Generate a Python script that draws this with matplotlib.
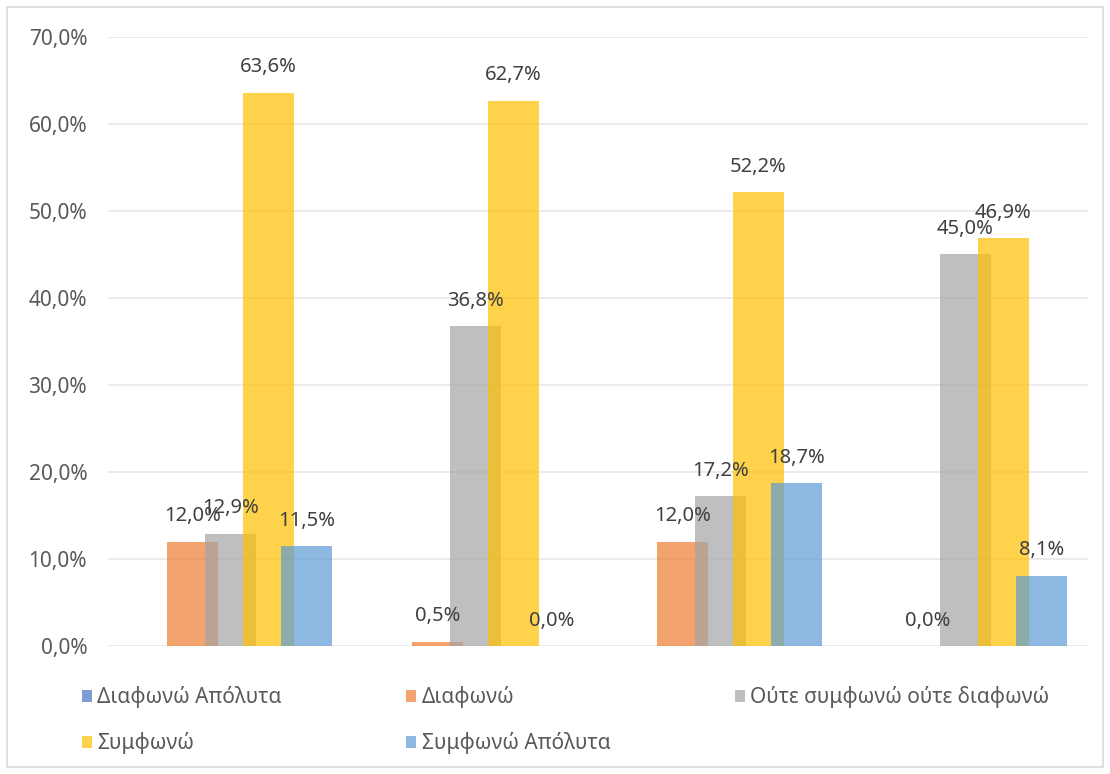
import matplotlib
matplotlib.use('Agg')
import matplotlib.pyplot as plt
import numpy as np
from matplotlib.patches import Rectangle

plt.rcParams['font.family'] = ['Noto Sans', 'DejaVu Sans']

series = ["Διαφωνώ Απόλυτα", "Διαφωνώ", "Ούτε συμφωνώ ούτε διαφωνώ", "Συμφωνώ", "Συμφωνώ Απόλυτα"]
colors = ["#4472C4", "#ED7D31", "#A5A5A5", "#FFC000", "#5B9BD5"]
groups = ["", "", "", ""]

diafono_apolyta = [np.nan, np.nan, np.nan, np.nan]
diafono = [12.0, 0.5, 12.0, 0.0]
oute = [12.9, 36.8, 17.2, 45.0]
symfono = [63.6, 62.7, 52.2, 46.9]
symfono_apolyta = [11.5, 0.0, 18.7, 8.1]
values = [diafono_apolyta, diafono, oute, symfono, symfono_apolyta]

fig = plt.figure(figsize=(11.1, 7.74), dpi=100)
ax = fig.add_axes([0.0973, 0.1654, 0.8827, 0.7868])

x = np.arange(len(groups))
step = 0.155
width = 0.208
handles = []
for k, (name, col, vals) in enumerate(zip(series, colors, values)):
    pos = x + (k - 2) * step
    bars = ax.bar(pos, vals, width=width, color=col, alpha=0.7, label=name, zorder=2 + k)
    handles.append(bars)
    for p, v in zip(pos, vals):
        if np.isnan(v):
            continue
        ax.annotate(f"{v:.1f}%".replace(".", ","), (p, v), xytext=(0, 11),
                    textcoords="offset points", ha="center", va="bottom",
                    fontsize=14.5, color="#404040", zorder=20)

ax.set_xlim(-0.5, len(groups) - 0.5)
ax.set_ylim(0, 70)
ax.set_yticks(np.arange(0, 71, 10))
ax.set_yticklabels([f"{t:.1f}%".replace(".", ",") for t in np.arange(0, 71, 10)])
ax.set_xticks([])
ax.tick_params(axis='y', length=0, pad=15, labelsize=15, labelcolor="#595959")
ax.grid(axis='y', color="#E8E8E8", linewidth=1.2, zorder=0)
ax.set_axisbelow(True)
for s in ax.spines.values():
    s.set_visible(False)

# legend filled row by row
order = [0, 3, 1, 4, 2]
leg = fig.legend([handles[i] for i in order], [series[i] for i in order],
                 ncol=3, loc="lower left", bbox_to_anchor=(0.066, 0.015, 0.887, 0.1),
                 mode="expand", frameon=False, fontsize=15, labelcolor="#595959",
                 handlelength=0.5, handleheight=0.5, handletextpad=0.25,
                 labelspacing=1.15, borderaxespad=0)

fig.patches.append(Rectangle((0.006, 0.009), 0.988, 0.982, transform=fig.transFigure,
                             fill=False, edgecolor="#D9D9D9", linewidth=1.2))

fig.savefig("out.png", dpi=100)
